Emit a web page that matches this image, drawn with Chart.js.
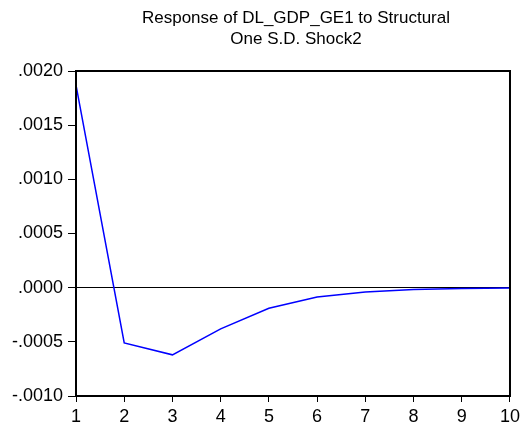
<!DOCTYPE html>
<html>
<head>
<meta charset="utf-8">
<script src="https://cdn.jsdelivr.net/npm/chart.js@4"></script>
<style>
  html, body { margin: 0; padding: 0; background: #fff; }
  canvas { display: block; }
</style>
</head>
<body>
<canvas id="irfChart" width="524" height="425"></canvas>
<script>
// data
const periods = ["1", "2", "3", "4", "5", "6", "7", "8", "9", "10"];
const response = [0.00187, -0.00051, -0.00062, -0.00038, -0.00019, -0.000087, -0.00004, -0.000018, -0.000007, -0.000003];
const titleLines = ["Response of DL_GDP_GE1 to Structural", "One S.D. Shock2"];
const yMin = -0.001, yMax = 0.002, yStep = 0.0005;

const FONT = "'Liberation Sans', Arial, sans-serif";

// ".0020" / "-.0005" style labels
function fmtTick(v) {
    let s = Math.abs(v).toFixed(4).replace(/^0/, "");
    return (v < -1e-12 ? "-" : "") + s;
}

/* frame + title drawn on top of the chart */
const framePlugin = {
    id: "frame",
    afterDraw(chart) {
        const { ctx, chartArea: a } = chart;
        ctx.save();
        ctx.strokeStyle = "#000";
        ctx.lineWidth = 2;
        ctx.strokeRect(a.left, a.top, a.right - a.left, a.bottom - a.top);

        ctx.fillStyle = "#000";
        ctx.font = "17px " + FONT;
        ctx.textAlign = "center";
        ctx.textBaseline = "alphabetic";
        const cx = (a.left + a.right) / 2 + 3;
        ctx.fillText(titleLines[0], cx, 23);
        ctx.fillText(titleLines[1], cx, 44);
        ctx.restore();
    }
};

new Chart(document.getElementById("irfChart"), {
    type: "line",
    data: {
        labels: periods,
        datasets: [{
            data: response,
            borderColor: "#0000ff",
            borderWidth: 1.5,
            pointRadius: 0,
            tension: 0,
            fill: false
        }]
    },
    options: {
        responsive: false,
        animation: false,
        layout: { padding: { top: 71, right: 13, left: 0, bottom: 0 } },
        plugins: {
            legend: { display: false },
            title: { display: false },
            tooltip: { enabled: false }
        },
        scales: {
            x: {
                type: "category",
                offset: false,
                grid: {
                    drawOnChartArea: false,
                    drawTicks: true,
                    tickLength: 6,
                    tickColor: "#000",
                    tickWidth: 1
                },
                border: { display: true, color: "#000", width: 2 },
                ticks: {
                    color: "#000",
                    font: { family: FONT, size: 18 },
                    padding: 4,
                    maxRotation: 0,
                    autoSkip: false
                },
                afterFit(scale) { scale.height = 29; }
            },
            y: {
                min: yMin,
                max: yMax,
                grid: {
                    drawOnChartArea: true,
                    color: c => (c.tick && Math.abs(c.tick.value) < 1e-12) ? "#000" : "rgba(0,0,0,0)",
                    lineWidth: 1,
                    drawTicks: true,
                    tickLength: 8,
                    tickColor: "#000",
                    tickWidth: 1
                },
                border: { display: true, color: "#000", width: 2 },
                ticks: {
                    stepSize: yStep,
                    color: "#000",
                    font: { family: FONT, size: 18 },
                    padding: 5,
                    callback: v => fmtTick(v)
                },
                afterFit(scale) { scale.width = 76; }
            }
        }
    },
    plugins: [framePlugin]
});
</script>
</body>
</html>
